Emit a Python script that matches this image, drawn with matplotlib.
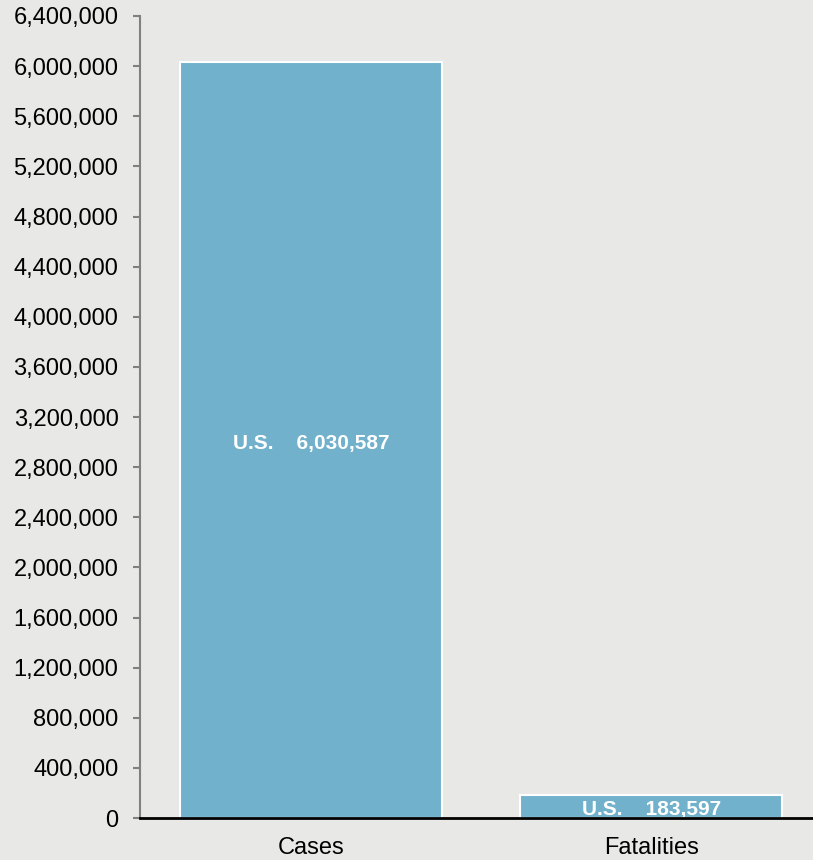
import matplotlib.pyplot as plt
from matplotlib.ticker import FuncFormatter

# data
categories = ['Cases', 'Fatalities']
values = [6030587, 183597]
labels = ['U.S.    6,030,587', 'U.S.    183,597']
yticks = list(range(0, 6400001, 400000))

plt.rcParams['font.family'] = ['Liberation Sans', 'DejaVu Sans']

bg = '#e8e8e7'
fig = plt.figure(figsize=(8.13, 8.6), dpi=100, facecolor=bg)
ax = fig.add_axes([0.1722, 0.0488, 0.8278, 0.9326], facecolor=bg)

x = range(len(categories))
bars = ax.bar(x, values, width=0.77, color='#71b1cb', edgecolor='white',
              linewidth=1.5, zorder=2)

# value labels in the middle of each bar
for b, lab in zip(bars, labels):
    ax.annotate(lab, (b.get_x() + b.get_width() / 2, b.get_height() / 2),
                xytext=(0, -2.2), textcoords='offset points',
                ha='center', va='center', color='white', fontsize=15,
                fontweight='bold', zorder=3)

ax.set_xlim(-0.503, 1.476)
ax.set_ylim(0, 6400000)
ax.set_yticks(yticks)
ax.yaxis.set_major_formatter(FuncFormatter(lambda v, p: f'{int(v):,}'))
ax.set_xticks(list(x))
ax.set_xticklabels(categories)

ax.tick_params(axis='y', labelsize=17, length=5, width=1.5, color='#808080',
               pad=10.5, labelcolor='black')
ax.tick_params(axis='x', labelsize=17, length=0, pad=14, labelcolor='black')

for s in ['top', 'right']:
    ax.spines[s].set_visible(False)
ax.spines['left'].set_color('#808080')
ax.spines['left'].set_linewidth(1.5)
ax.spines['bottom'].set_color('black')
ax.spines['bottom'].set_linewidth(2)
ax.spines['bottom'].set_zorder(4)

fig.savefig('out.png', dpi=100, facecolor=bg)
